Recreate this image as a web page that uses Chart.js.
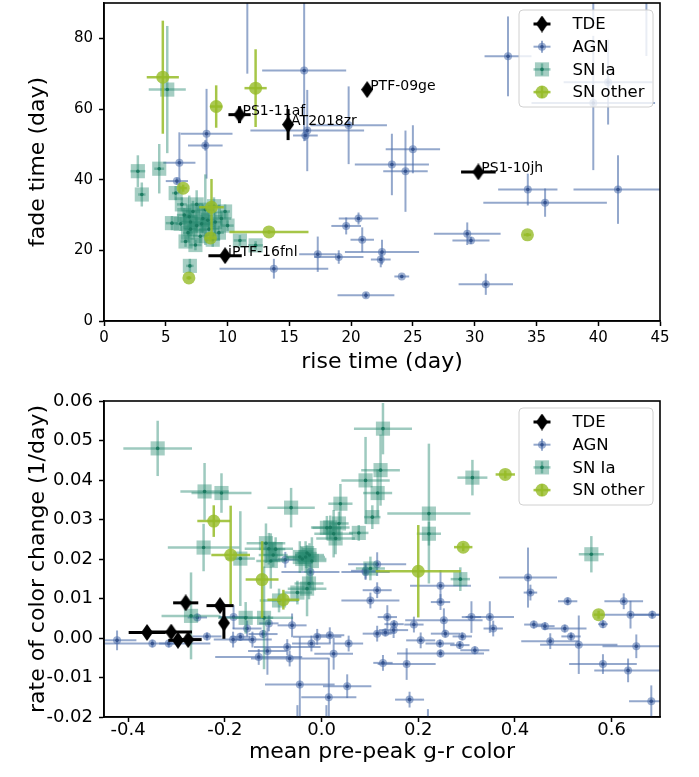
<!DOCTYPE html>
<html>
<head>
<meta charset="utf-8">
<script src="https://cdn.jsdelivr.net/npm/chart.js@4.4.1/dist/chart.umd.min.js"></script>
<style>
  body { margin: 0; background: #fff; }
  #topBox { position: absolute; left: 0; top: 0; width: 699px; height: 380px; }
  #bottomBox { position: absolute; left: 0; top: 380px; width: 699px; height: 397px; }
</style>
</head>
<body>
<div id="topBox"><canvas id="riseFadeChart"></canvas></div>
<div id="bottomBox"><canvas id="colorChart"></canvas></div>
<script>
// ---- data: each point is [x, y, xErr, yErr] ----
const seriesNames = ['TDE', 'AGN', 'SN Ia', 'SN other'];
const tdeNames = ['PS1-11af', 'AT2018zr', 'PTF-09ge', 'PS1-10jh', 'iPTF-16fnl'];

const riseTicks = [0, 5, 10, 15, 20, 25, 30, 35, 40, 45];
const fadeTicks = [0, 20, 40, 60, 80];
const colorTicks = [-0.4, -0.2, 0.0, 0.2, 0.4, 0.6];
const rateTicks = [-0.02, -0.01, 0.00, 0.01, 0.02, 0.03, 0.04, 0.05, 0.06];

// top panel: rise time vs fade time (day)
const tdeTop = [[10.97, 58.4, 0.9, 2.4], [14.9, 55.6, 0.3, 4.4], [21.3, 65.5, 0.3, 1.5],
                [30.3, 42.2, 1.4, 1.0], [9.8, 18.5, 1.35, 1.0]];
const agnTop = [
  [16.2, 70.9, 3.4, 20], [11.6, 97, 0.3, 27], [16.45, 53.9, 4.6, 11.5], [16.3, 52.5, 1.0, 1.5],
  [19.8, 55.4, 3.1, 11], [8.3, 53, 2.1, 12.7], [8.2, 49.7, 1.4, 1.5], [6.1, 44.8, 1.3, 8.6],
  [5.9, 39.6, 0.9, 1.0], [17.3, 18.9, 1.5, 5], [19.0, 18.1, 2, 1.9], [13.75, 14.8, 4.4, 2.8],
  [21.2, 7.3, 2.3, 0.8], [20.6, 29.0, 1.6, 1.7], [19.6, 26.9, 1.2, 2.4], [20.9, 23.0, 0.95, 3.5],
  [22.5, 19.5, 3, 3.5], [22.4, 17.4, 0.8, 2.2], [23.3, 44.3, 3, 8.7], [24.4, 42.4, 1.8, 11.5],
  [24.1, 12.6, 0.6, 0.5], [32.7, 74.9, 1.9, 11.3], [25.0, 48.6, 2.2, 6.8], [34.3, 37.2, 2.4, 4.5],
  [35.7, 33.5, 5, 4], [41.6, 37.2, 3.6, 9.7], [39.6, 61.7, 5, 19], [40.8, 67.6, 3.6, 12],
  [43.9, 97, 0.3, 22], [39.6, 97, 0.3, 13.5], [29.4, 24.7, 2.7, 3.2], [29.7, 22.8, 1.5, 1.0],
  [30.9, 10.4, 2.2, 3]
];
const snIaTop = [
  [2.74, 42.4, 0.6, 4.5], [3.06, 35.8, 0.3, 3.4], [4.47, 43.1, 0.4, 7], [5.12, 65.5, 1.5, 18],
  [5.8, 36.2, 0.3, 2], [5.5, 27.7, 0.5, 2], [6.95, 15.6, 0.3, 2], [11.0, 22.8, 0.5, 1.5],
  [12.27, 21.4, 0.6, 1.2], [6.5, 30, 0.6, 2], [7, 28, 0.8, 3], [7.5, 27, 0.5, 2], [8, 29, 0.7, 4],
  [6.8, 25, 0.4, 2.5], [7.2, 31, 0.6, 3], [8.5, 26, 0.8, 2], [9, 28, 0.5, 3], [7.8, 24, 0.6, 2],
  [6.2, 27.5, 0.4, 2], [8.2, 31.5, 0.7, 10], [9.5, 29, 0.8, 2], [7.5, 33, 0.5, 4],
  [6.6, 22.5, 0.4, 1.5], [8.8, 23, 0.6, 2], [7, 26, 0.5, 2], [9.3, 25, 0.4, 2],
  [7.9, 27.5, 1.0, 2.5], [6.9, 29.5, 0.5, 6], [8.4, 28.5, 0.6, 2], [10, 27, 0.5, 1.5],
  [7.4, 21.5, 0.5, 1.5], [8.9, 32.5, 0.5, 2.5], [6.3, 33, 0.4, 2], [9.8, 31, 0.4, 2]
];
const snOtherTop = [
  [4.76, 69, 1.3, 16], [12.27, 65.9, 0.9, 11], [9.08, 60.7, 0.5, 6], [6.41, 37.6, 0.3, 1],
  [8.7, 32.2, 1, 8], [13.35, 25.2, 3.2, 0.5], [8.62, 23.5, 0.4, 1], [6.87, 12.2, 0.2, 0.5],
  [34.27, 24.4, 0.3, 0.5]
];

// bottom panel: mean pre-peak g-r color vs rate of color change (1/day)
const tdeBottom = [[-0.361, 0.0014, 0.038, 0.0008], [-0.311, 0.0015, 0.043, 0.0008],
  [-0.297, -0.0006, 0.02, 0.0008], [-0.276, -0.0004, 0.028, 0.0008], [-0.281, 0.0089, 0.026, 0.0008],
  [-0.21, 0.0082, 0.028, 0.0008], [-0.202, 0.0038, 0.005, 0.004]];
const agnBottom = [
  [-0.423, -0.0006, 0.04, 0.0025], [-0.35, -0.0014, 0.12, 0.001], [-0.316, -0.0014, 0.02, 0.001],
  [-0.257, 0.0052, 0.02, 0.001], [-0.237, 0.0004, 0.03, 0.001], [-0.182, 0.0053, 0.03, 0.003],
  [-0.183, -0.0004, 0.04, 0.002], [-0.154, 0.0024, 0.03, 0.002], [-0.168, 0.0003, 0.02, 0.001],
  [-0.143, -0.0004, 0.04, 0.002], [-0.13, -0.0048, 0.09, 0.002], [-0.121, 0.001, 0.03, 0.001],
  [-0.112, -0.0033, 0.04, 0.006], [-0.109, 0.0037, 0.02, 0.002], [-0.075, 0.0198, 0.03, 0.002],
  [-0.071, -0.0023, 0.069, 0.002], [-0.066, -0.0052, 0.08, 0.002], [-0.061, 0.0032, 0.03, 0.003],
  [-0.045, -0.0118, 0.072, 0.012], [-0.023, 0.0167, 0.06, 0.004], [-0.009, 0.0003, 0.05, 0.002],
  [-0.021, -0.0014, 0.04, 0.002], [0.015, -0.015, 0.057, 0.01], [0.017, 0.0007, 0.03, 0.002],
  [0.025, -0.004, 0.04, 0.004], [0.053, -0.0122, 0.05, 0.003], [0.056, -0.0014, 0.03, 0.002],
  [0.115, 0.0187, 0.06, 0.003], [0.091, 0.017, 0.03, 0.002], [0.115, 0.0121, 0.03, 0.002],
  [0.101, 0.0095, 0.06, 0.002], [0.136, 0.0053, 0.02, 0.003], [0.115, 0.0011, 0.03, 0.002],
  [0.132, 0.0014, 0.02, 0.001], [0.15, 0.0035, 0.02, 0.001], [0.127, -0.0063, 0.02, 0.002],
  [0.149, 0.002, 0.03, 0.002], [0.246, 0.0132, 0.063, 0.004], [0.246, 0.0091, 0.02, 0.002],
  [0.253, 0.0045, 0.08, 0.003], [0.31, 0.0053, 0.02, 0.004], [0.348, 0.0053, 0.05, 0.004],
  [0.355, 0.0024, 0.02, 0.002], [0.191, 0.0034, 0.02, 0.002], [0.205, -0.0006, 0.03, 0.002],
  [0.256, 0.0011, 0.03, 0.001], [0.291, 0.0004, 0.02, 0.001], [0.245, -0.0014, 0.03, 0.001],
  [0.286, -0.0018, 0.02, 0.001], [0.317, -0.0031, 0.03, 0.001], [0.246, -0.0039, 0.09, 0.001],
  [0.176, -0.0066, 0.06, 0.004], [0.182, -0.0156, 0.03, 0.002], [0.22, -0.022, 0.005, 0.004],
  [0.427, 0.0153, 0.06, 0.0076], [0.432, 0.0115, 0.014, 0.002], [0.439, 0.0034, 0.02, 0.001],
  [0.462, 0.003, 0.02, 0.001], [0.503, 0.0024, 0.045, 0.001], [0.473, -0.0008, 0.06, 0.002],
  [0.516, 0.0004, 0.02, 0.001], [0.532, -0.0017, 0.08, 0.0074], [0.509, 0.0093, 0.02, 0.001],
  [0.582, 0.0035, 0.01, 0.001], [0.625, 0.0093, 0.04, 0.002], [0.639, 0.0059, 0.06, 0.0035],
  [0.684, 0.0059, 0.04, 0.001], [0.651, -0.0021, 0.07, 0.003], [0.582, -0.0066, 0.07, 0.0025],
  [0.634, -0.0082, 0.07, 0.003], [0.682, -0.016, 0.046, 0.004], [0.091, 0.0167, 0.05, 0.002],
  [-0.05, -0.022, 0.005, 0.005], [0.01, -0.021, 0.005, 0.004]
];
const snIaBottom = [
  [-0.339, 0.048, 0.071, 0.007], [0.127, 0.053, 0.06, 0.0065], [-0.242, 0.0371, 0.05, 0.0072],
  [-0.207, 0.0367, 0.062, 0.005], [-0.063, 0.033, 0.049, 0.005], [-0.244, 0.0229, 0.074, 0.006],
  [-0.168, 0.0201, 0.03, 0.012], [-0.27, 0.0056, 0.061, 0.011], [-0.157, 0.0051, 0.057, 0.004],
  [-0.119, 0.0051, 0.06, 0.013], [-0.109, 0.0226, 0.05, 0.004], [-0.1, 0.021, 0.03, 0.003],
  [-0.115, 0.024, 0.04, 0.005], [-0.105, 0.0195, 0.03, 0.007], [-0.095, 0.0225, 0.02, 0.003],
  [-0.033, 0.0205, 0.04, 0.004], [-0.025, 0.021, 0.03, 0.003], [-0.04, 0.02, 0.05, 0.003],
  [-0.02, 0.0195, 0.03, 0.006], [-0.03, 0.0215, 0.02, 0.002], [-0.045, 0.0205, 0.03, 0.004],
  [-0.03, 0.0125, 0.04, 0.007], [-0.05, 0.0115, 0.03, 0.003], [-0.026, 0.0138, 0.03, 0.004],
  [-0.088, 0.0095, 0.04, 0.003], [0.018, 0.028, 0.04, 0.003], [0.029, 0.0252, 0.04, 0.004],
  [0.011, 0.0279, 0.03, 0.003], [0.025, 0.0264, 0.04, 0.006], [0.039, 0.034, 0.025, 0.005],
  [0.036, 0.029, 0.02, 0.003], [0.077, 0.0266, 0.02, 0.002], [0.091, 0.0399, 0.05, 0.011],
  [0.122, 0.0425, 0.04, 0.009], [0.116, 0.0367, 0.03, 0.006], [0.105, 0.0306, 0.017, 0.003],
  [0.101, 0.0176, 0.03, 0.003], [0.312, 0.0406, 0.031, 0.0045], [0.222, 0.0315, 0.086, 0.0177],
  [0.222, 0.0264, 0.025, 0.003], [0.287, 0.0149, 0.02, 0.003], [0.558, 0.0212, 0.026, 0.0046]
];
const snOtherBottom = [
  [-0.223, 0.0296, 0.034, 0.004], [-0.188, 0.021, 0.04, 0.0125], [-0.123, 0.0148, 0.034, 0.0097],
  [-0.079, 0.0097, 0.033, 0.0025], [0.38, 0.0414, 0.02, 0.001], [0.293, 0.023, 0.019, 0.001],
  [0.2, 0.0169, 0.088, 0.0117], [0.573, 0.0059, 0.01, 0.001]
];

// ---- styles ----
const FONT = "'DejaVu Sans', sans-serif";
Chart.defaults.font.family = FONT;
Chart.defaults.color = '#000';

// thin diamond marker (matplotlib 'd')
const diamond = document.createElement('canvas');
diamond.width = 12; diamond.height = 17;
(function () {
    const c = diamond.getContext('2d');
    c.fillStyle = '#000';
    c.beginPath();
    c.moveTo(6, 0); c.lineTo(12, 8.5); c.lineTo(6, 17); c.lineTo(0, 8.5);
    c.closePath(); c.fill();
})();

const styles = {
    'TDE':      { pointStyle: diamond, radius: 8, fill: '#000', bar: '#000', barWidth: 3, dot: null, order: 0 },
    'AGN':      { pointStyle: 'circle', radius: 4, fill: 'rgba(76,110,170,0.55)', bar: 'rgba(76,110,170,0.6)', barWidth: 2, dot: 'rgba(50,80,140,0.9)', order: 3 },
    'SN Ia':    { pointStyle: 'rect', radius: 10, fill: 'rgba(40,138,112,0.42)', bar: 'rgba(40,138,112,0.45)', barWidth: 2.5, dot: 'rgba(25,120,95,0.95)', order: 2 },
    'SN other': { pointStyle: 'circle', radius: 6.5, fill: 'rgba(150,188,40,0.8)', bar: 'rgba(150,188,40,0.85)', barWidth: 2.5, dot: null, order: 1 }
};

function makeSet(name, pts) {
    const s = styles[name];
    return {
        label: name,
        order: s.order,
        clip: 0,
        data: pts.map(p => ({ x: p[0], y: p[1] })),
        errX: pts.map(p => p[2]),
        errY: pts.map(p => p[3]),
        pointStyle: s.pointStyle,
        pointRadius: s.radius,
        pointHoverRadius: s.radius,
        backgroundColor: s.fill,
        borderWidth: 0,
        barColor: s.bar,
        barWidth: s.barWidth,
        dotColor: s.dot
    };
}

// error bars under each dataset, small dark dot on top
const errorBars = {
    id: 'errorBars',
    beforeDatasetDraw(chart, args) {
        const ds = chart.data.datasets[args.index];
        const { ctx, chartArea: a } = chart;
        const xs = chart.scales.x, ys = chart.scales.y;
        ctx.save();
        ctx.beginPath(); ctx.rect(a.left, a.top, a.width, a.height); ctx.clip();
        ctx.strokeStyle = ds.barColor;
        ctx.lineWidth = ds.barWidth;
        ds.data.forEach((p, i) => {
            const px = xs.getPixelForValue(p.x), py = ys.getPixelForValue(p.y);
            ctx.beginPath();
            ctx.moveTo(xs.getPixelForValue(p.x - ds.errX[i]), py);
            ctx.lineTo(xs.getPixelForValue(p.x + ds.errX[i]), py);
            ctx.stroke();
            ctx.beginPath();
            ctx.moveTo(px, ys.getPixelForValue(p.y - ds.errY[i]));
            ctx.lineTo(px, ys.getPixelForValue(p.y + ds.errY[i]));
            ctx.stroke();
        });
        ctx.restore();
    },
    afterDatasetDraw(chart, args) {
        const ds = chart.data.datasets[args.index];
        if (!ds.dotColor) return;
        const { ctx, chartArea: a } = chart;
        ctx.save();
        ctx.beginPath(); ctx.rect(a.left, a.top, a.width, a.height); ctx.clip();
        ctx.fillStyle = ds.dotColor;
        ds.data.forEach(p => {
            ctx.beginPath();
            ctx.arc(chart.scales.x.getPixelForValue(p.x), chart.scales.y.getPixelForValue(p.y), 1.8, 0, Math.PI * 2);
            ctx.fill();
        });
        ctx.restore();
    }
};

function drawKey(ctx, s, cx, cy) {
    ctx.strokeStyle = s.bar; ctx.lineWidth = s.barWidth;
    ctx.beginPath(); ctx.moveTo(cx - 8.5, cy); ctx.lineTo(cx + 8.5, cy); ctx.stroke();
    ctx.beginPath(); ctx.moveTo(cx, cy - 6); ctx.lineTo(cx, cy + 6); ctx.stroke();
    ctx.fillStyle = s.fill;
    if (s.pointStyle === 'circle') {
        ctx.beginPath(); ctx.arc(cx, cy, s.radius, 0, Math.PI * 2); ctx.fill();
    } else if (s.pointStyle === 'rect') {
        const h = s.radius * Math.SQRT1_2;
        ctx.fillRect(cx - h, cy - h, 2 * h, 2 * h);
    } else {
        ctx.drawImage(s.pointStyle, cx - s.pointStyle.width / 2, cy - s.pointStyle.height / 2);
    }
    if (s.dot) {
        ctx.fillStyle = s.dot;
        ctx.beginPath(); ctx.arc(cx, cy, 1.8, 0, Math.PI * 2); ctx.fill();
    }
}

// legend box in the upper right, plus the frame round the axes
const insetLegend = {
    id: 'insetLegend',
    afterDatasetsDraw(chart) {
        const { ctx, chartArea: a } = chart;
        const left = a.right - 141, top = a.top + 7, w = 134, h = 97;
        ctx.save();
        ctx.beginPath();
        ctx.roundRect(left, top, w, h, 4);
        ctx.fillStyle = 'rgba(255,255,255,0.8)';
        ctx.fill();
        ctx.strokeStyle = '#d0d0d0'; ctx.lineWidth = 1;
        ctx.stroke();
        seriesNames.forEach((name, i) => {
            const cy = top + 14 + i * 22.7;
            drawKey(ctx, styles[name], left + 23, cy);
            ctx.fillStyle = '#000';
            ctx.font = '16.5px ' + FONT;
            ctx.textBaseline = 'middle';
            ctx.textAlign = 'left';
            ctx.fillText(name, left + 53.5, cy + 1);
        });
        ctx.strokeStyle = '#000'; ctx.lineWidth = 1.6;
        ctx.strokeRect(a.left, a.top, a.width, a.height);
        ctx.restore();
    }
};

const tdeLabels = {
    id: 'tdeLabels',
    afterDatasetsDraw(chart) {
        const ds = chart.data.datasets.find(d => d.label === 'TDE');
        const { ctx } = chart;
        ctx.save();
        ctx.font = '14px ' + FONT;
        ctx.fillStyle = '#000';
        ctx.textBaseline = 'alphabetic';
        ds.data.forEach((p, i) => {
            ctx.fillText(tdeNames[i], chart.scales.x.getPixelForValue(p.x) + 3, chart.scales.y.getPixelForValue(p.y));
        });
        ctx.restore();
    }
};

function axis(opts) {
    return {
        min: opts.min, max: opts.max,
        afterBuildTicks: s => { s.ticks = opts.ticks.map(v => ({ value: v })); },
        afterFit: s => {
            if (opts.width) s.width = opts.width;
            if (opts.height) s.height = opts.height;
            // do not let edge labels push the plot area around
            s.paddingTop = 0; s.paddingBottom = 0; s.paddingLeft = 0; s.paddingRight = 0;
        },
        grid: { display: true, drawOnChartArea: false, drawTicks: true, tickLength: 5, tickWidth: 1.5, tickColor: '#000' },
        border: { display: true, color: '#000', width: 1.6 },
        ticks: { autoSkip: false, maxRotation: 0, padding: opts.tickPad, color: '#000',
                  font: { size: opts.tickSize }, callback: opts.fmt },
        title: { display: true, text: opts.title, color: '#000', font: { size: 22 }, padding: opts.titlePad }
    };
}

function baseOptions(xAxis, yAxis, padTop) {
    return {
        responsive: true,
        maintainAspectRatio: false,
        animation: false,
        events: [],
        layout: { autoPadding: false, padding: { top: padTop, right: 39, left: 0, bottom: 0 } },
        plugins: { legend: { display: false }, tooltip: { enabled: false } },
        scales: { x: xAxis, y: yAxis }
    };
}

document.addEventListener('DOMContentLoaded', function () {
    new Chart(document.getElementById('riseFadeChart'), {
        type: 'scatter',
        data: { datasets: [makeSet('TDE', tdeTop), makeSet('AGN', agnTop), makeSet('SN Ia', snIaTop), makeSet('SN other', snOtherTop)] },
        options: baseOptions(
            axis({ min: 0, max: 45, ticks: riseTicks, fmt: v => String(v), tickSize: 15, tickPad: 3,
                   title: 'rise time (day)', titlePad: { top: 0, bottom: 5 }, height: 59 }),
            axis({ min: 0, max: 90, ticks: fadeTicks, fmt: v => String(v), tickSize: 15, tickPad: 6,
                   title: 'fade time (day)', titlePad: { top: 25, bottom: 0 }, width: 104 }),
            3),
        plugins: [errorBars, tdeLabels, insetLegend]
    });

    new Chart(document.getElementById('colorChart'), {
        type: 'scatter',
        data: { datasets: [makeSet('TDE', tdeBottom), makeSet('AGN', agnBottom), makeSet('SN Ia', snIaBottom), makeSet('SN other', snOtherBottom)] },
        options: baseOptions(
            axis({ min: -0.45, max: 0.70, ticks: colorTicks, fmt: v => v.toFixed(1), tickSize: 18, tickPad: -2,
                   title: 'mean pre-peak g-r color', titlePad: { top: 0, bottom: 12 }, height: 60 }),
            axis({ min: -0.02, max: 0.06, ticks: rateTicks, fmt: v => v.toFixed(2), tickSize: 18, tickPad: 6,
                   title: 'rate of color change (1/day)', titlePad: { top: 25, bottom: 0 }, width: 104 }),
            21),
        plugins: [errorBars, insetLegend]
    });
});
</script>
</body>
</html>
